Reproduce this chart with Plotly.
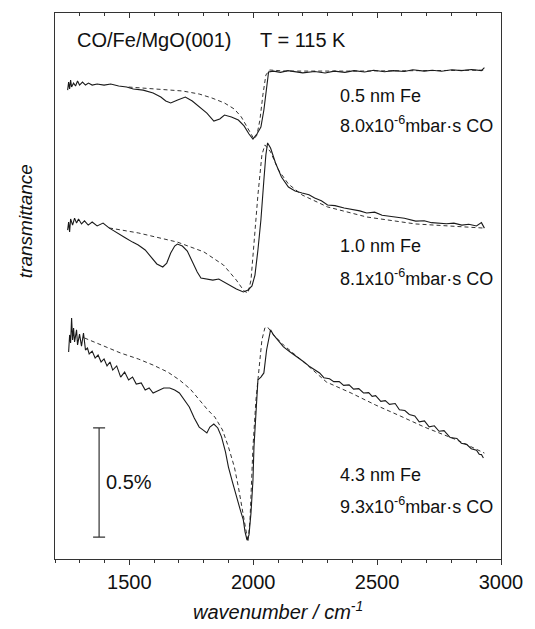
import plotly.graph_objects as go

# ---------------- data (wavenumber in cm^-1, transmittance offset in %) ----------------
top_wn = [1251, 1255, 1259, 1263, 1267, 1275, 1283, 1291, 1299, 1311, 1323, 1335, 1350, 1370,
          1398, 1425, 1457, 1489, 1516, 1556, 1596, 1627, 1647, 1667, 1695, 1726, 1754, 1782,
          1813, 1841, 1865, 1884, 1912, 1940, 1963, 1983, 1999, 2015, 2031, 2043, 2051, 2062,
          2082, 2110, 2140, 2169, 2200, 2248, 2290, 2327, 2370, 2407, 2450, 2486, 2530, 2565,
          2610, 2644, 2690, 2723, 2760, 2802, 2840, 2881, 2910, 2921, 2933]
top_val = [2.147, 2.184, 2.152, 2.193, 2.161, 2.179, 2.166, 2.189, 2.170, 2.184, 2.170, 2.179,
           2.170, 2.175, 2.170, 2.175, 2.166, 2.161, 2.152, 2.147, 2.134, 2.115, 2.097, 2.088,
           2.102, 2.115, 2.097, 2.070, 2.042, 2.005, 2.015, 2.033, 2.024, 2.010, 1.983, 1.946,
           1.923, 1.946, 1.978, 2.056, 2.134, 2.230, 2.234, 2.228, 2.236, 2.230, 2.226, 2.232,
           2.225, 2.234, 2.228, 2.236, 2.230, 2.238, 2.231, 2.236, 2.232, 2.240, 2.234, 2.238,
           2.233, 2.240, 2.236, 2.241, 2.237, 2.236, 2.250]
top_fit_wn = [1497, 1615, 1714, 1782, 1833, 1884, 1924, 1952, 1975, 1991, 2003, 2015, 2027,
              2039, 2051, 2066, 2130, 2400, 2700, 2933]
top_fit_val = [2.161, 2.152, 2.143, 2.129, 2.111, 2.088, 2.060, 2.024, 1.978, 1.941, 1.923,
               1.941, 2.010, 2.125, 2.216, 2.239, 2.234, 2.234, 2.236, 2.238]

mid_wn = [1251, 1255, 1259, 1263, 1271, 1279, 1287, 1295, 1307, 1319, 1334, 1350, 1370, 1394,
          1418, 1449, 1485, 1513, 1536, 1564, 1588, 1611, 1635, 1651, 1667, 1683, 1694, 1714,
          1734, 1754, 1774, 1789, 1813, 1837, 1861, 1884, 1908, 1932, 1960, 1979, 1995, 2007,
          2019, 2031, 2043, 2051, 2058, 2070, 2090, 2114, 2142, 2169, 2197, 2225, 2248, 2275,
          2300, 2330, 2367, 2400, 2430, 2458, 2490, 2520, 2545, 2575, 2610, 2656, 2690, 2720,
          2743, 2780, 2810, 2842, 2870, 2901, 2921, 2933]
mid_val = [1.506, 1.543, 1.497, 1.557, 1.529, 1.561, 1.538, 1.557, 1.534, 1.548, 1.529, 1.543,
           1.525, 1.538, 1.516, 1.493, 1.470, 1.451, 1.438, 1.415, 1.383, 1.351, 1.337, 1.355,
           1.401, 1.433, 1.442, 1.433, 1.410, 1.360, 1.314, 1.287, 1.282, 1.277, 1.282, 1.268,
           1.250, 1.236, 1.223, 1.232, 1.250, 1.300, 1.415, 1.552, 1.735, 1.850, 1.905, 1.882,
           1.813, 1.749, 1.703, 1.685, 1.676, 1.668, 1.653, 1.640, 1.621, 1.618, 1.607, 1.600,
           1.594, 1.584, 1.588, 1.574, 1.571, 1.566, 1.560, 1.547, 1.549, 1.540, 1.538, 1.535,
           1.538, 1.529, 1.533, 1.525, 1.540, 1.515]
mid_fit_wn = [1418, 1536, 1694, 1801, 1880, 1932, 1963, 1979, 1991, 2003, 2019, 2035, 2047,
              2070, 2102, 2142, 2197, 2300, 2458, 2656, 2933]
mid_fit_val = [1.516, 1.493, 1.451, 1.406, 1.346, 1.277, 1.227, 1.218, 1.277, 1.461, 1.667,
               1.850, 1.896, 1.864, 1.781, 1.717, 1.667, 1.612, 1.566, 1.534, 1.515]

bot_wn = [1255, 1259, 1263, 1267, 1271, 1275, 1279, 1287, 1291, 1299, 1307, 1315, 1323, 1331,
          1338, 1350, 1362, 1374, 1386, 1398, 1410, 1422, 1433, 1449, 1465, 1481, 1497, 1513,
          1528, 1548, 1564, 1580, 1596, 1615, 1639, 1663, 1683, 1702, 1722, 1742, 1762, 1782,
          1797, 1813, 1825, 1841, 1857, 1872, 1888, 1900, 1916, 1932, 1948, 1960, 1967, 1975,
          1983, 1991, 1999, 2003, 2011, 2019, 2031, 2043, 2054, 2070, 2082, 2098, 2122, 2149,
          2165, 2189, 2205, 2229, 2245, 2268, 2285, 2308, 2325, 2347, 2365, 2387, 2405, 2426,
          2445, 2466, 2480, 2494, 2515, 2533, 2550, 2573, 2590, 2612, 2630, 2652, 2670, 2691,
          2710, 2731, 2750, 2770, 2795, 2822, 2840, 2861, 2880, 2901, 2912, 2921, 2929]
bot_val = [0.948, 1.026, 0.989, 1.103, 1.003, 1.058, 0.994, 1.049, 0.980, 1.030, 0.975, 1.035,
           0.957, 0.966, 0.939, 0.952, 0.920, 0.934, 0.902, 0.916, 0.884, 0.902, 0.865, 0.884,
           0.833, 0.856, 0.820, 0.833, 0.801, 0.806, 0.774, 0.783, 0.760, 0.769, 0.783, 0.783,
           0.774, 0.760, 0.728, 0.696, 0.646, 0.604, 0.591, 0.577, 0.604, 0.618, 0.600, 0.559,
           0.490, 0.421, 0.353, 0.284, 0.224, 0.179, 0.124, 0.087, 0.110, 0.211, 0.362, 0.513,
           0.682, 0.820, 0.833, 0.852, 0.957, 1.049, 1.026, 1.003, 0.971, 0.948,
           0.935, 0.918, 0.902, 0.880, 0.868, 0.852, 0.830, 0.825, 0.812, 0.812, 0.795, 0.797,
           0.778, 0.780, 0.760, 0.762, 0.745, 0.748, 0.722, 0.725, 0.708, 0.712, 0.683, 0.680,
           0.662, 0.655, 0.628, 0.632, 0.605, 0.610, 0.585, 0.588, 0.556, 0.552, 0.530, 0.525,
           0.505, 0.498, 0.480, 0.478, 0.462]
bot_fit_wn = [1319, 1398, 1465, 1536, 1596, 1655, 1702, 1746, 1782, 1817, 1845, 1876, 1900,
              1924, 1940, 1956, 1971, 1979, 1987, 1999, 2011, 2023, 2035, 2047, 2058, 2082,
              2122, 2209, 2296, 2395, 2494, 2593, 2691, 2822, 2933]
bot_fit_val = [1.012, 0.975, 0.943, 0.916, 0.888, 0.856, 0.820, 0.778, 0.728, 0.682, 0.650,
               0.591, 0.513, 0.421, 0.330, 0.224, 0.119, 0.078, 0.179, 0.513, 0.728, 0.865,
               1.003, 1.058, 1.062, 1.026, 0.980, 0.897, 0.810, 0.760, 0.705, 0.655, 0.604,
               0.545, 0.485]

scale_bar_wn = 1378
scale_bar_lo, scale_bar_hi = 0.10, 0.60

x_ticks = [1500, 2000, 2500, 3000]

labels = [
    ("0.5 nm Fe", 2.118),
    ("8.0x10<sup>-6</sup>mbar·s CO", 1.99),
    ("1.0 nm Fe", 1.433),
    ("8.1x10<sup>-6</sup>mbar·s CO", 1.29),
    ("4.3 nm Fe", 0.385),
    ("9.3x10<sup>-6</sup>mbar·s CO", 0.245),
]

# ---------------- figure ----------------
FONT = "Liberation Sans, Arial, sans-serif"
LINE = "#1a1a1a"
fig = go.Figure()

for wn, val, fwn, fval in [(top_wn, top_val, top_fit_wn, top_fit_val),
                           (mid_wn, mid_val, mid_fit_wn, mid_fit_val),
                           (bot_wn, bot_val, bot_fit_wn, bot_fit_val)]:
    fig.add_trace(go.Scatter(x=fwn, y=fval, mode="lines",
                             line=dict(color="#333333", width=1, dash="4px,3px"),
                             showlegend=False, hoverinfo="skip"))
    fig.add_trace(go.Scatter(x=wn, y=val, mode="lines",
                             line=dict(color=LINE, width=1.1),
                             showlegend=False, hoverinfo="skip"))

# scale bar
mid = (scale_bar_lo + scale_bar_hi) / 2
half = (scale_bar_hi - scale_bar_lo) / 2
fig.add_trace(go.Scatter(x=[scale_bar_wn], y=[mid], mode="markers",
                         marker=dict(size=1, color="rgba(0,0,0,0)"),
                         error_y=dict(type="data", array=[half], color="#333333",
                                      thickness=1.2, width=6),
                         showlegend=False, hoverinfo="skip"))

fig.add_annotation(x=1279, y=2.376, xref="x", yref="y", text="CO/Fe/MgO(001)",
                   showarrow=False, xanchor="left", yanchor="middle",
                   font=dict(size=20, color="#111", family=FONT))
fig.add_annotation(x=2019, y=2.376, xref="x", yref="y", text="T = 115 K",
                   showarrow=False, xanchor="left", yanchor="middle",
                   font=dict(size=20, color="#111", family=FONT))
for txt, yv in labels:
    fig.add_annotation(x=2343, y=yv, xref="x", yref="y", text=txt, showarrow=False,
                       xanchor="left", yanchor="middle",
                       font=dict(size=18, color="#111", family=FONT))
fig.add_annotation(x=1398, y=0.353, xref="x", yref="y", text="0.5%", showarrow=False,
                   xanchor="left", yanchor="middle",
                   font=dict(size=20, color="#111", family=FONT))

fig.add_annotation(x=0.5, y=-0.095, xref="paper", yref="paper",
                   text="<i>wavenumber / cm<sup>-1</sup></i>", showarrow=False,
                   xanchor="center", yanchor="middle",
                   font=dict(size=20, color="#111", family=FONT))
fig.add_annotation(x=-0.066, y=0.618, xref="paper", yref="paper",
                   text="<i>transmittance</i>", showarrow=False, textangle=-90,
                   xanchor="center", yanchor="middle",
                   font=dict(size=19, color="#111", family=FONT))

fig.update_layout(
    width=535, height=629,
    margin=dict(l=55, r=25, t=13, b=70),
    paper_bgcolor="white", plot_bgcolor="white",
    font=dict(family=FONT, color="#111"),
    hovermode=False,
    xaxis=dict(range=[1200, 3000], tickvals=x_ticks, ticks="outside", ticklen=5,
               tickwidth=1, tickcolor="#333", showgrid=False, zeroline=False,
               showline=True, linecolor="#333", linewidth=1, mirror=True,
               tickfont=dict(size=20, family=FONT, color="#111"),
               minor=dict(dtick=100, tick0=1200, ticks="outside", ticklen=3,
                          tickcolor="#333", showgrid=False)),
    xaxis2=dict(range=[1200, 3000], overlaying="x", side="top", showticklabels=False,
                tickvals=x_ticks, ticks="inside", ticklen=5, tickcolor="#333",
                showgrid=False, zeroline=False, showline=False,
                minor=dict(dtick=100, tick0=1200, ticks="inside", ticklen=3,
                           tickcolor="#333", showgrid=False)),
    yaxis=dict(range=[0, 2.5], showticklabels=False, ticks="", showgrid=False,
               zeroline=False, showline=True, linecolor="#333", linewidth=1, mirror=True),
)
# invisible point so the top (mirror) axis is drawn
fig.add_trace(go.Scatter(x=[1200], y=[0], xaxis="x2", mode="markers",
                         marker=dict(size=1, color="rgba(0,0,0,0)"),
                         showlegend=False, hoverinfo="skip"))

fig.write_html("out.html", config={"displayModeBar": False, "staticPlot": True},
               post_script="document.body.style.margin='0';document.body.style.overflow='hidden';")
